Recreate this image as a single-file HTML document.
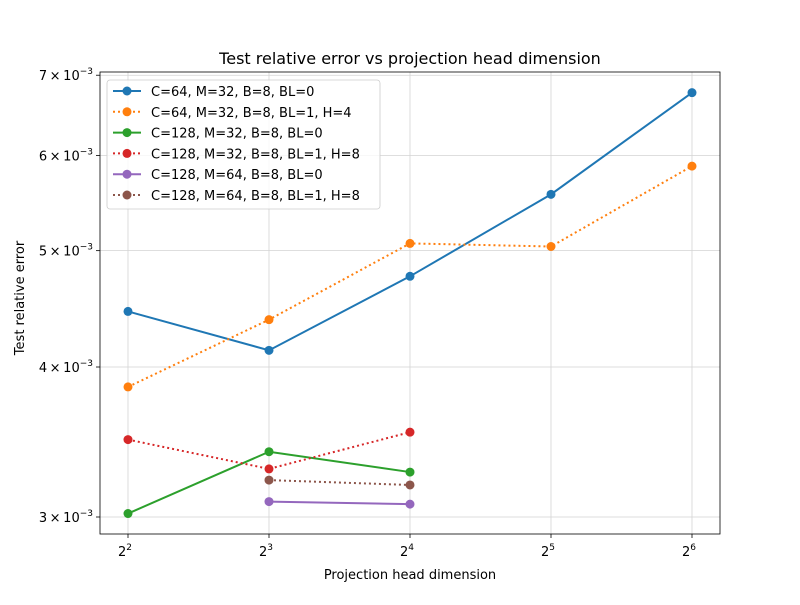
<!DOCTYPE html>
<html><head><meta charset="utf-8"><style>
body{margin:0;background:#fff;}
svg text{font-family:"DejaVu Sans","Liberation Sans",sans-serif;fill:#000;}
</style></head><body>
<svg id="chart" width="800" height="600" xmlns="http://www.w3.org/2000/svg">
<rect width="800" height="600" fill="#fff"/>
<g id="grid"></g>
<g id="series"></g>
<rect x="100" y="72" width="620" height="462" fill="none" stroke="#000" stroke-width="0.8"/>
<g id="axes"></g>
<text x="410" y="64" text-anchor="middle" font-size="16">Test relative error vs projection head dimension</text>
<text x="410" y="579" text-anchor="middle" font-size="13">Projection head dimension</text>
<text transform="translate(24,298) rotate(-90)" text-anchor="middle" font-size="13">Test relative error</text>
<g id="legend"></g>
</svg>
<script>
const xExps=[2,3,4,5,6];
const yTicks=[3,4,5,6,7];
const labels=["C=64, M=32, B=8, BL=0","C=64, M=32, B=8, BL=1, H=4","C=128, M=32, B=8, BL=0","C=128, M=32, B=8, BL=1, H=8","C=128, M=64, B=8, BL=0","C=128, M=64, B=8, BL=1, H=8"];
const colors=["#1f77b4","#ff7f0e","#2ca02c","#d62728","#9467bd","#8c564b"];
const dotted=[false,true,false,true,false,true];
const xs0=[4,8,16,32,64];
const xs1=[4,8,16,32,64];
const xs2=[4,8,16];
const xs3=[4,8,16];
const xs4=[8,16];
const xs5=[8,16];
const ys0=[4.45e-3,4.13e-3,4.76e-3,5.57e-3,6.77e-3];
const ys1=[3.85e-3,4.38e-3,5.07e-3,5.04e-3,5.88e-3];
const ys2=[3.02e-3,3.40e-3,3.27e-3];
const ys3=[3.48e-3,3.29e-3,3.53e-3];
const ys4=[3.09e-3,3.075e-3];
const ys5=[3.22e-3,3.19e-3];
const XS=[xs0,xs1,xs2,xs3,xs4,xs5], YS=[ys0,ys1,ys2,ys3,ys4,ys5];
const NS="http://www.w3.org/2000/svg";
function X(v){return 128+141*(Math.log2(v)-2);}
function Y(v){return 517-521.4*Math.log(v/3e-3);}
function mk(t,a,p){const e=document.createElementNS(NS,t);for(const k in a)e.setAttribute(k,a[k]);p.appendChild(e);return e;}
const grid=document.getElementById('grid'),axes=document.getElementById('axes'),ser=document.getElementById('series'),leg=document.getElementById('legend');
xExps.forEach(e=>{const x=X(Math.pow(2,e));
 const g=mk('line',{x1:x,x2:x,y1:72,y2:534,stroke:'#d3d3d3','stroke-width':0.8},grid);
 
 const t=mk('line',{x1:x,x2:x,y1:534,y2:538,stroke:'#000','stroke-width':0.8},axes);
 
 const tx=mk('text',{x:x-3,y:556,'text-anchor':'middle','font-size':13},axes);
 
 tx.textContent='2';const s=mk('tspan',{dy:-6,'font-size':9},tx);s.textContent=e;});
yTicks.forEach(v=>{const y=Y(v*1e-3);
 const g=mk('line',{x1:100,x2:720,y1:y,y2:y,stroke:'#d3d3d3','stroke-width':0.8},grid);
 
 const t=mk('line',{x1:96,x2:100,y1:y,y2:y,stroke:'#000','stroke-width':0.8},axes);
 
 const tx=mk('text',{x:93,y:y+5,'text-anchor':'end','font-size':13},axes);
 
 tx.textContent=v+'\u2009×\u200910';const s=mk('tspan',{dy:-6,'font-size':9},tx);s.textContent='−3';});
XS.forEach((xs,i)=>{
 const pts=xs.map((x,j)=>X(x)+','+Y(YS[i][j])).join(' ');
 const pl=mk('polyline',{points:pts,fill:'none',stroke:colors[i],'stroke-width':2,'stroke-dasharray':dotted[i]?'2,3':'none'},ser);
 
 xs.forEach((x,j)=>{const c=mk('circle',{cx:X(x),cy:Y(YS[i][j]),r:4.5,fill:colors[i]},ser);
  });
});
const box=mk('rect',{x:107,y:80,width:273,height:129,rx:3,fill:'#fff','fill-opacity':0.8,stroke:'#ccc','stroke-width':0.8},leg);

labels.forEach((l,i)=>{const y=91+i*20.8;
 const g=mk('g',{},leg);
 
 mk('line',{x1:113,x2:141,y1:y,y2:y,stroke:colors[i],'stroke-width':2,'stroke-dasharray':dotted[i]?'2,3':'none'},g);
 mk('circle',{cx:127,cy:y,r:4.5,fill:colors[i]},g);
 const t=mk('text',{x:151,y:y+5,'font-size':13},g);t.textContent=l;});
</script>
</body></html>
